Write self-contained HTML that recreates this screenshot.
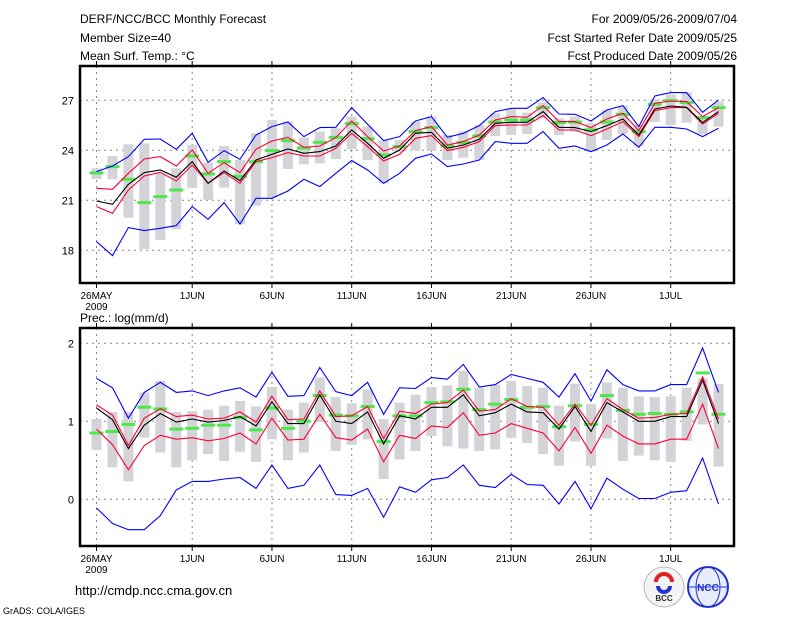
<!DOCTYPE html>
<html><head><meta charset="utf-8"><style>
html,body{margin:0;padding:0;background:#fff;}
svg{display:block;font-family:"Liberation Sans",sans-serif;}
</style></head>
<body>
<svg id="chart" width="800" height="618" viewBox="0 0 800 618" xmlns="http://www.w3.org/2000/svg">
<rect width="800" height="618" fill="#fff"/>
<g font-size="12" fill="#000">
<text x="80" y="23">DERF/NCC/BCC Monthly Forecast</text>
<text x="80" y="42">Member Size=40</text>
<text x="80" y="60">Mean Surf. Temp.: °C</text>
<text x="737" y="23" text-anchor="end">For 2009/05/26-2009/07/04</text>
<text x="737" y="42" text-anchor="end">Fcst Started Refer Date 2009/05/25</text>
<text x="737" y="60" text-anchor="end">Fcst Produced Date 2009/05/26</text>
<text x="80" y="322">Prec.: log(mm/d)</text>
<text x="75" y="595" font-size="13">http://cmdp.ncc.cma.gov.cn</text>
<text x="3" y="614" font-size="9">GrADS: COLA/IGES</text>
</g>
<g>
<circle cx="664" cy="587" r="20" fill="#f4f4f4" stroke="#bbb"/>
<path d="M656 582 a8 8 0 1 1 16 0" fill="none" stroke="#d22" stroke-width="4"/>
<path d="M658 586 a6 6 0 0 0 12 0" fill="none" stroke="#23c" stroke-width="4"/>
<text x="664" y="601" font-size="8" text-anchor="middle" font-weight="bold" fill="#333">BCC</text>
</g>
<g>
<circle cx="708" cy="587" r="20" fill="#e8ecff" stroke="#23c" stroke-width="2"/>
<ellipse cx="708" cy="587" rx="12" ry="20" fill="none" stroke="#23c"/>
<line x1="688" y1="587" x2="728" y2="587" stroke="#23c"/>
<text x="708" y="591" font-size="10" text-anchor="middle" font-weight="bold" fill="#23c">NCC</text>
</g>
<g id="top"></g>
<g id="bot"></g>
</svg>
<script>
// ---- Temperature panel data ----
const tBlueHi=[22.72,23.06,23.62,24.66,24.68,24.06,25.02,23.28,23.98,23.46,24.92,25.42,25.7,24.82,25.36,25.38,26.56,25.56,24.58,24.82,25.76,26.02,24.78,25.02,25.48,26.32,26.52,26.52,27.16,26.18,26.16,25.76,26.42,26.68,25.42,27.26,27.46,27.46,26.28,27.02];
const tRedHi=[21.72,21.66,22.62,23.48,23.62,23.06,24.02,22.62,23.26,22.66,24.06,24.56,24.78,24.18,24.26,24.76,25.76,24.82,23.96,24.26,25.18,25.42,24.32,24.52,24.92,25.82,26.02,25.98,26.68,25.72,25.72,25.36,25.88,26.22,25.18,26.82,26.96,26.92,26.02,26.56];
const tMean=[20.96,20.76,21.96,22.66,22.82,22.38,23.32,22.02,22.76,22.18,23.42,23.76,24.08,23.82,23.92,24.26,25.22,24.42,23.52,24.02,25.02,25.08,24.12,24.32,24.66,25.62,25.68,25.68,26.32,25.38,25.36,25.12,25.48,25.88,24.92,26.48,26.66,26.58,25.66,26.32];
const tRedLo=[20.62,20.22,21.62,22.46,22.68,22.16,23.12,22.02,22.66,22.02,23.32,23.56,23.86,23.66,23.66,24.12,25.02,24.22,23.36,23.76,24.72,24.88,23.98,24.18,24.52,25.48,25.52,25.52,26.08,25.22,25.22,24.88,25.28,25.72,24.82,26.38,26.56,26.56,25.58,26.22];
const tBlueLo=[18.52,17.68,19.36,19.18,19.32,19.48,20.62,19.86,20.86,19.58,21.12,21.12,21.56,22.26,21.82,22.62,23.38,22.82,22.02,22.62,23.52,23.78,23.02,23.18,23.42,24.52,24.42,24.42,25.12,24.12,24.26,23.92,24.32,24.98,24.18,25.38,25.38,25.28,24.82,25.32];
const tMedian=[22.64,23.02,22.26,20.86,21.22,21.62,23.66,22.58,23.32,22.44,23.32,23.98,24.58,24.14,24.48,24.78,25.6,24.7,23.72,24.22,25.12,25.36,24.26,24.46,24.86,25.7,25.82,25.82,26.56,25.66,25.7,25.22,25.7,26.16,25.12,26.76,26.98,26.86,25.96,26.56];
const tBoxHi=[22.92,23.66,24.36,24.42,22.62,22.92,24.32,23.26,24.26,23.42,25.02,25.82,25.72,24.76,25.12,25.32,26.02,25.42,24.58,24.62,25.72,26.02,24.92,25.12,25.52,26.22,26.46,26.26,26.86,25.92,26.02,25.62,26.42,26.68,25.52,27.06,27.36,27.48,26.02,26.92];
const tBoxLo=[22.28,22.26,19.96,18.08,18.62,19.26,21.76,21.02,21.76,19.56,20.68,21.16,22.88,23.16,23.22,23.48,24.06,23.42,22.02,23.9,23.98,23.98,23.42,23.56,23.42,24.86,24.92,24.98,25.92,24.92,25.12,23.92,24.62,24.98,24.26,25.7,25.52,25.66,24.98,25.42];
const tTicks=[18,21,24,27];
// ---- Precipitation panel data ----
const pBlueHi=[1.55,1.43,1.04,1.37,1.50,1.37,1.39,1.33,1.39,1.43,1.31,1.63,1.32,1.33,1.69,1.38,1.33,1.50,1.09,1.43,1.42,1.56,1.54,1.73,1.44,1.47,1.60,1.55,1.50,1.31,1.61,1.26,1.66,1.47,1.39,1.39,1.47,1.47,1.94,1.37];
const pRedHi=[1.21,1.08,0.69,1.04,1.16,1.06,1.08,1.03,1.04,1.12,0.99,1.32,1.02,1.03,1.39,1.06,1.07,1.19,0.78,1.13,1.10,1.22,1.24,1.40,1.13,1.15,1.29,1.19,1.18,0.95,1.22,0.95,1.29,1.15,1.04,1.05,1.09,1.10,1.57,1.03];
const pMean=[1.17,1.02,0.65,0.95,1.10,0.99,1.03,0.99,1.01,1.06,0.94,1.25,0.97,0.97,1.34,1.00,0.97,1.12,0.71,1.07,1.03,1.18,1.18,1.34,1.07,1.11,1.22,1.12,1.11,0.90,1.19,0.87,1.24,1.12,1.00,1.00,1.06,1.06,1.53,0.97];
const pRedLo=[0.90,0.70,0.38,0.69,0.82,0.77,0.79,0.75,0.78,0.85,0.71,1.04,0.76,0.77,1.09,0.79,0.76,0.90,0.48,0.82,0.78,0.94,0.92,1.11,0.82,0.85,0.97,0.91,0.85,0.62,0.92,0.59,0.95,0.81,0.71,0.71,0.77,0.77,1.22,0.65];
const pBlueLo=[-0.11,-0.31,-0.39,-0.39,-0.21,0.12,0.23,0.23,0.26,0.28,0.14,0.44,0.14,0.18,0.44,0.06,0.05,0.14,-0.23,0.16,0.09,0.25,0.28,0.44,0.18,0.15,0.32,0.19,0.18,-0.06,0.23,-0.12,0.27,0.13,0.01,0.01,0.09,0.11,0.53,-0.06];
const pMedian=[0.85,0.87,0.96,1.18,1.16,0.90,0.91,0.95,0.95,1.05,0.89,1.17,0.91,1.00,1.33,1.08,1.07,1.19,0.74,1.07,1.07,1.24,1.25,1.41,1.15,1.22,1.28,1.18,1.19,0.93,1.20,0.96,1.33,1.14,1.09,1.10,1.09,1.12,1.62,1.09];
const pBoxHi=[1.03,1.12,1.12,1.37,1.52,1.12,1.13,1.15,1.20,1.26,1.19,1.44,1.15,1.24,1.56,1.31,1.23,1.41,1.03,1.24,1.34,1.44,1.46,1.65,1.43,1.47,1.52,1.45,1.43,1.20,1.48,1.22,1.50,1.43,1.32,1.31,1.32,1.43,1.55,1.48];
const pBoxLo=[0.63,0.41,0.23,0.79,0.60,0.41,0.50,0.58,0.49,0.61,0.48,0.77,0.50,0.60,0.99,0.62,0.70,0.77,0.26,0.51,0.62,0.81,0.68,0.65,0.62,0.64,0.79,0.72,0.58,0.43,0.74,0.43,0.78,0.49,0.56,0.50,0.48,0.75,0.96,0.42];
const pTicks=[0,1,2];
const xTickDays=[0,6,11,16,21,26,31,36];
const xTickLabels=["26MAY","1JUN","6JUN","11JUN","16JUN","21JUN","26JUN","1JUL"];

const NS="http://www.w3.org/2000/svg";
const X0=80,X1=734;
function xScale(d){return 96.5+15.95*d;}
function mk(tag,attrs,parent){const e=document.createElementNS(NS,tag);for(const k in attrs)e.setAttribute(k,attrs[k]);parent.appendChild(e);return e;}

function panel(g,top,bottom,yScale,ticks,boxHi,boxLo,med,series,prefix){
  ticks.forEach(t=>{
    const l=mk('line',{x1:X0,x2:X1,y1:yScale(t),y2:yScale(t),stroke:'#888','stroke-dasharray':'2,4'},g);
    
    
    const tx=mk('text',{x:X0-6,y:yScale(t)+4,'font-size':11,'text-anchor':'end'},g);
    tx.textContent=t;
    
    
  });
  xTickDays.forEach((d,i)=>{
    const l=mk('line',{x1:xScale(d),x2:xScale(d),y1:top,y2:bottom,stroke:'#888','stroke-dasharray':'2,4'},g);
    
    
    mk('line',{x1:xScale(d),x2:xScale(d),y1:bottom,y2:bottom+5,stroke:'#000'},g);
    mk('line',{x1:xScale(d),x2:xScale(d),y1:top-5,y2:top,stroke:'#000'},g);
    const tx=mk('text',{x:xScale(d),y:bottom+16,'font-size':10,'text-anchor':'middle'},g);
    tx.textContent=xTickLabels[i];
    
    
  });
  const yr=mk('text',{x:xScale(0),y:bottom+27,'font-size':10,'text-anchor':'middle'},g);
  yr.textContent='2009';
  
  
  boxHi.forEach((h,d)=>{
    const y1=yScale(h),y2=yScale(boxLo[d]);
    const r=mk('rect',{x:xScale(d)-5,y:y1,width:10,height:y2-y1,fill:'#d3d3d8'},g);
    
    
  });
  med.forEach((v,d)=>{
    const r=mk('rect',{x:xScale(d)-7,y:yScale(v)-1.5,width:14,height:3,fill:'#4de84d'},g);
    
    
  });
  series.forEach(s=>{
    const pts=s.v.map((v,d)=>xScale(d).toFixed(1)+','+yScale(v).toFixed(1)).join(' ');
    const p=mk('polyline',{points:pts,fill:'none',stroke:s.c,'stroke-width':1.1},g);
    
    
  });
  const f=mk('rect',{x:X0,y:top,width:X1-X0,height:bottom-top,fill:'none',stroke:'#000','stroke-width':2.5},g);
  
  
}
function yTop(v){return 100.3-(v-27)*16.667;}
function yBot(v){return 499.3-v*78;}
panel(document.getElementById('top'),66,283,yTop,tTicks,tBoxHi,tBoxLo,tMedian,[
 {n:'blue-upper-line',c:'#0000ff',v:tBlueHi},{n:'blue-lower-line',c:'#0000ff',v:tBlueLo},
 {n:'red-upper-line',c:'#ff0033',v:tRedHi},{n:'red-lower-line',c:'#ff0033',v:tRedLo},
 {n:'ensemble-mean-line',c:'#000',v:tMean}],'temp');
panel(document.getElementById('bot'),328,546,yBot,pTicks,pBoxHi,pBoxLo,pMedian,[
 {n:'blue-upper-line',c:'#0000ff',v:pBlueHi},{n:'blue-lower-line',c:'#0000ff',v:pBlueLo},
 {n:'red-upper-line',c:'#ff0033',v:pRedHi},{n:'red-lower-line',c:'#ff0033',v:pRedLo},
 {n:'ensemble-mean-line',c:'#000',v:pMean}],'prec');
</script>
</body></html>
